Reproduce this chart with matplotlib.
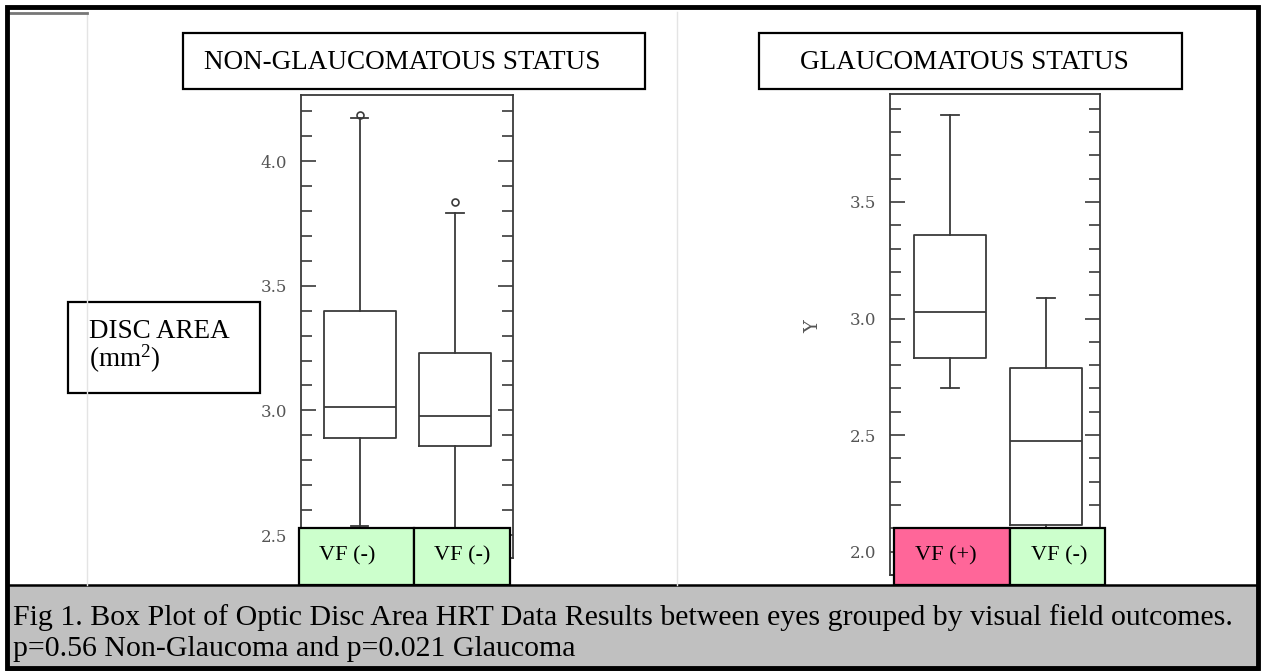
import matplotlib
matplotlib.use("Agg")
import matplotlib.pyplot as plt
from matplotlib.patches import Rectangle
from matplotlib.ticker import MultipleLocator

plt.rcParams['font.family'] = ['Liberation Serif', 'DejaVu Serif']
plt.rcParams['mathtext.fontset'] = 'custom'
plt.rcParams['mathtext.rm'] = 'Liberation Serif'
plt.rcParams['mathtext.it'] = 'Liberation Serif:italic'

W, H = 1262, 671

# box statistics
left_labels = ["VF (-)", "VF (-)"]
left_q1 = [2.890, 2.857]
left_med = [3.014, 2.977]
left_q3 = [3.398, 3.231]
left_lo = [2.537, 2.45]
left_hi = [4.172, 3.793]
left_fliers = [[4.185], [3.836]]

right_labels = ["VF (+)", "VF (-)"]
right_q1 = [2.831, 2.113]
right_med = [3.030, 2.476]
right_q3 = [3.359, 2.786]
right_lo = [2.704, 2.0]
right_hi = [3.873, 3.087]
right_fliers = [[], []]

left_title = "NON-GLAUCOMATOUS STATUS"
right_title = "GLAUCOMATOUS STATUS"
caption1 = "Fig 1. Box Plot of Optic Disc Area HRT Data Results between eyes grouped by visual field outcomes."
caption2 = "p=0.56 Non-Glaucoma and p=0.021 Glaucoma"

ink = '#3a3a3a'
lbl = '#555555'


def px_axes(fig, x0, y0, x1, y1):
    return fig.add_axes([x0 / W, 1 - y1 / H, (x1 - x0) / W, (y1 - y0) / H])


def make_stats(q1, med, q3, lo, hi, fl):
    return [dict(q1=a, med=b, q3=c, whislo=d, whishi=e, fliers=f)
            for a, b, c, d, e, f in zip(q1, med, q3, lo, hi, fl)]


def box_panel(ax, stats, ylim, xlim, majors):
    ax.bxp(stats, positions=[1, 2], widths=0.75, capwidths=0.18,
           boxprops=dict(color=ink, lw=1.3),
           medianprops=dict(color=ink, lw=1.3),
           whiskerprops=dict(color=ink, lw=1.3),
           capprops=dict(color=ink, lw=1.3),
           flierprops=dict(marker='o', markersize=5, markerfacecolor='none',
                           markeredgecolor=ink, markeredgewidth=1.2))
    ax.set_xlim(*xlim)
    ax.set_ylim(*ylim)
    ax.set_xticks([])
    ax.yaxis.set_minor_locator(MultipleLocator(0.1))
    ax.set_yticks(majors)
    ax.set_yticklabels(["%.1f" % v for v in majors], family='DejaVu Serif')
    ax.tick_params(axis='y', which='both', direction='in', left=True, right=True,
                   color=ink, width=1.2, labelcolor=lbl, labelsize=12, pad=10)
    ax.tick_params(axis='y', which='major', length=11)
    ax.tick_params(axis='y', which='minor', length=8)
    for s in ax.spines.values():
        s.set_color(ink)
        s.set_linewidth(1.3)
    ax.patch.set_alpha(0)


fig = plt.figure(figsize=(W / 100, H / 100), dpi=100)

axL = px_axes(fig, 301, 95, 513, 558)
box_panel(axL, make_stats(left_q1, left_med, left_q3, left_lo, left_hi, left_fliers),
          (2.408, 4.265), (0.38, 2.61), [2.5, 3.0, 3.5, 4.0])

axR = px_axes(fig, 890, 94, 1100, 575)
box_panel(axR, make_stats(right_q1, right_med, right_q3, right_lo, right_hi, right_fliers),
          (1.90, 3.963), (0.375, 2.5625), [2.0, 2.5, 3.0, 3.5])
axR.set_ylabel("Y", color=lbl, fontsize=14, family='DejaVu Serif')
axR.yaxis.set_label_coords(-0.324, 0.516)

# overlay in pixel units for the pasted boxes, caption and frame
ov = fig.add_axes([0, 0, 1, 1], zorder=5)
ov.set_xlim(0, W)
ov.set_ylim(H, 0)
ov.axis('off')
ov.patch.set_alpha(0)

# faint scan page edges
ov.plot([87, 87], [12, 585], color='#e4e4e4', lw=1)
ov.plot([677, 677], [12, 585], color='#e4e4e4', lw=1)
ov.plot([10, 87], [13, 13], color='#777777', lw=2)


def box(x0, y0, x1, y1, fc='white', lw=1.6):
    ov.add_patch(Rectangle((x0, y0), x1 - x0, y1 - y0, facecolor=fc,
                           edgecolor='black', lw=lw))


box(183, 33, 645, 89)
ov.text(204, 69, left_title, fontsize=19.5, va='baseline', ha='left')
box(759, 33, 1182, 89)
ov.text(800, 69, right_title, fontsize=19.5, va='baseline', ha='left')

box(68, 302, 260, 393)
ov.text(89, 338, "DISC AREA", fontsize=19.5, va='baseline', ha='left')
ov.text(89, 367, "(mm$^2$)", fontsize=19.5, va='baseline', ha='left')

green = '#CCFFCC'
pink = '#FF6699'
box(299, 528, 414, 585, fc=green)
box(414, 528, 510, 585, fc=green)
box(894, 528, 1010, 585, fc=pink)
box(1010, 528, 1105, 585, fc=green)
ov.text(319, 560, left_labels[0], fontsize=16, va='baseline', ha='left')
ov.text(434, 560, left_labels[1], fontsize=16, va='baseline', ha='left')
ov.text(915, 560, right_labels[0], fontsize=16, va='baseline', ha='left')
ov.text(1031, 560, right_labels[1], fontsize=16, va='baseline', ha='left')

# caption band
box(7, 585, 1258, 669, fc='#C0C0C0', lw=1.8)
ov.text(13, 625, caption1, fontsize=21.5, va='baseline', ha='left')
ov.text(13, 656, caption2, fontsize=21.5, va='baseline', ha='left')

# outer frame, drawn last so it trims the caption's descenders
ov.add_patch(Rectangle((7, 7), 1251, 661, facecolor='none', edgecolor='black',
                       lw=3.5, zorder=10))

fig.savefig("out.png", dpi=100)
